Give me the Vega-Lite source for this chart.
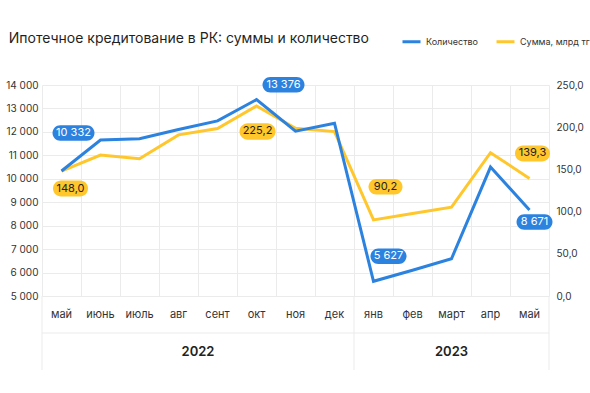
{
  "$schema": "https://vega.github.io/schema/vega-lite/v6.json",
  "padding": {"left": 5, "top": 31, "right": 5, "bottom": 5},
  "background": "white",
  "config": {
    "font": "Inter",
    "view": {"stroke": null},
    "locale": {"number": {"decimal": ",", "thousands": " ", "grouping": [3], "currency": ["", ""]}}
  },
  "title": {"text": "Ипотечное кредитование в РК: суммы и количество", "anchor": "start", "font": "Inter", "fontSize": 14, "fontWeight": 400, "color": "#1f1f1f", "offset": -15, "dx": 3},
  "datasets": {
    "m": [
      {"key": "май 2022", "month": "май", "year": "2022", "count": 10332, "sum": 148.0},
      {"key": "июнь 2022", "month": "июнь", "year": "2022", "count": 11650, "sum": 167.0},
      {"key": "июль 2022", "month": "июль", "year": "2022", "count": 11710, "sum": 162.7},
      {"key": "авг 2022", "month": "авг", "year": "2022", "count": 12100, "sum": 190.9},
      {"key": "сент 2022", "month": "сент", "year": "2022", "count": 12470, "sum": 198.4},
      {"key": "окт 2022", "month": "окт", "year": "2022", "count": 13376, "sum": 225.2},
      {"key": "ноя 2022", "month": "ноя", "year": "2022", "count": 12030, "sum": 198.8},
      {"key": "дек 2022", "month": "дек", "year": "2022", "count": 12370, "sum": 194.8},
      {"key": "янв 2023", "month": "янв", "year": "2023", "count": 5627, "sum": 90.2},
      {"key": "фев 2023", "month": "фев", "year": "2023", "count": 6100, "sum": 97.7},
      {"key": "март 2023", "month": "март", "year": "2023", "count": 6590, "sum": 105.2},
      {"key": "апр 2023", "month": "апр", "year": "2023", "count": 10500, "sum": 169.8},
      {"key": "май 2023", "month": "май", "year": "2023", "count": 8671, "sum": 139.3}
    ]
  },
  "spacing": 0,
  "bounds": "flush",
  "vconcat": [
    {
      "width": 507,
      "height": 211,
      "data": {"name": "m"},
      "layer": [
        {
          "encoding": {
            "x": {"field": "key", "type": "ordinal", "scale": {"type": "band", "paddingInner": 0, "paddingOuter": 0, "domain": ["май 2022","июнь 2022","июль 2022","авг 2022","сент 2022","окт 2022","ноя 2022","дек 2022","янв 2023","фев 2023","март 2023","апр 2023","май 2023"]}, "axis": {"labels": false, "ticks": false, "domain": false, "grid": true, "tickBand": "extent", "gridColor": "#EBEBEB", "gridWidth": 1, "title": null}},
            "y": {"field": "sum", "type": "quantitative", "scale": {"domain": [0, 250], "zero": false, "nice": false}, "axis": {"orient": "right", "values": [0, 50, 100, 150, 200, 250], "format": ".1f", "grid": false, "domain": false, "ticks": false, "labelPadding": 7, "labelFontSize": 10, "labelColor": "#333333", "title": null}}
          },
          "layer": [
            {"mark": {"type": "line", "strokeWidth": 3}, "encoding": {"color": {"datum": "Сумма, млрд тг", "type": "nominal", "scale": {"domain": ["Количество", "Сумма, млрд тг"], "range": ["#2C82DF", "#FFC72C"]}, "legend": {"orient": "none", "legendX": 359, "legendY": -54, "direction": "horizontal", "title": null, "symbolType": "stroke", "symbolStrokeWidth": 3, "symbolSize": 324, "labelFontSize": 9, "labelColor": "#333333", "labelOffset": 4, "columnPadding": 12}}}},
            {"transform": [{"filter": "datum.key === 'май 2022'"}], "layer": [
              {"mark": {"type": "point", "shape": "M-0.544,-0.456L0.544,-0.456C0.796,-0.456,1,-0.252,1,0C1,0.252,0.796,0.456,0.544,0.456L-0.544,0.456C-0.796,0.456,-1,0.252,-1,0C-1,-0.252,-0.796,-0.456,-0.544,-0.456Z", "size": 1225, "filled": true, "opacity": 1, "color": "#FFC72C", "strokeWidth": 0, "xOffset": 9, "yOffset": 17.5}},
              {"mark": {"type": "text", "fontSize": 11, "color": "#222222", "xOffset": 9, "yOffset": 17.5}, "encoding": {"text": {"field": "sum", "type": "quantitative", "format": ".1f"}}}
            ]},
            {"transform": [{"filter": "datum.key === 'окт 2022'"}], "layer": [
              {"mark": {"type": "point", "shape": "M-0.544,-0.456L0.544,-0.456C0.796,-0.456,1,-0.252,1,0C1,0.252,0.796,0.456,0.544,0.456L-0.544,0.456C-0.796,0.456,-1,0.252,-1,0C-1,-0.252,-0.796,-0.456,-0.544,-0.456Z", "size": 1296, "filled": true, "opacity": 1, "color": "#FFC72C", "strokeWidth": 0, "xOffset": 1, "yOffset": 25.5}},
              {"mark": {"type": "text", "fontSize": 11, "color": "#222222", "xOffset": 1, "yOffset": 25.5}, "encoding": {"text": {"field": "sum", "type": "quantitative", "format": ".1f"}}}
            ]},
            {"transform": [{"filter": "datum.key === 'янв 2023'"}], "layer": [
              {"mark": {"type": "point", "shape": "M-0.544,-0.456L0.544,-0.456C0.796,-0.456,1,-0.252,1,0C1,0.252,0.796,0.456,0.544,0.456L-0.544,0.456C-0.796,0.456,-1,0.252,-1,0C-1,-0.252,-0.796,-0.456,-0.544,-0.456Z", "size": 1156, "filled": true, "opacity": 1, "color": "#FFC72C", "strokeWidth": 0, "xOffset": 12, "yOffset": -33}},
              {"mark": {"type": "text", "fontSize": 11, "color": "#222222", "xOffset": 12, "yOffset": -33}, "encoding": {"text": {"field": "sum", "type": "quantitative", "format": ".1f"}}}
            ]},
            {"transform": [{"filter": "datum.key === 'май 2023'"}], "layer": [
              {"mark": {"type": "point", "shape": "M-0.544,-0.456L0.544,-0.456C0.796,-0.456,1,-0.252,1,0C1,0.252,0.796,0.456,0.544,0.456L-0.544,0.456C-0.796,0.456,-1,0.252,-1,0C-1,-0.252,-0.796,-0.456,-0.544,-0.456Z", "size": 1225, "filled": true, "opacity": 1, "color": "#FFC72C", "strokeWidth": 0, "xOffset": 3, "yOffset": -25}},
              {"mark": {"type": "text", "fontSize": 11, "color": "#222222", "xOffset": 3, "yOffset": -25}, "encoding": {"text": {"field": "sum", "type": "quantitative", "format": ".1f"}}}
            ]}
          ]
        },
        {
          "encoding": {
            "x": {"field": "key", "type": "ordinal", "scale": {"type": "band", "paddingInner": 0, "paddingOuter": 0, "domain": ["май 2022","июнь 2022","июль 2022","авг 2022","сент 2022","окт 2022","ноя 2022","дек 2022","янв 2023","фев 2023","март 2023","апр 2023","май 2023"]}, "axis": {"labels": false, "ticks": false, "domain": false, "grid": true, "tickBand": "extent", "gridColor": "#EBEBEB", "gridWidth": 1, "title": null}},
            "y": {"field": "count", "type": "quantitative", "scale": {"domain": [5000, 14000], "zero": false, "nice": false}, "axis": {"orient": "left", "values": [5000, 6000, 7000, 8000, 9000, 10000, 11000, 12000, 13000, 14000], "format": ",.0f", "grid": true, "gridColor": "#EBEBEB", "domain": false, "ticks": false, "labelPadding": 4, "labelFontSize": 10, "labelColor": "#333333", "title": null}}
          },
          "layer": [
            {"mark": {"type": "line", "strokeWidth": 3}, "encoding": {"color": {"datum": "Количество", "type": "nominal", "scale": {"domain": ["Количество", "Сумма, млрд тг"], "range": ["#2C82DF", "#FFC72C"]}}}},
            {"transform": [{"filter": "datum.key === 'май 2022'"}], "layer": [
              {"mark": {"type": "point", "shape": "M-0.631,-0.369L0.631,-0.369C0.835,-0.369,1,-0.204,1,0C1,0.204,0.835,0.369,0.631,0.369L-0.631,0.369C-0.835,0.369,-1,0.204,-1,0C-1,-0.204,-0.835,-0.369,-0.631,-0.369Z", "size": 1764, "filled": true, "opacity": 1, "color": "#2C82DF", "strokeWidth": 0, "xOffset": 12, "yOffset": -38}},
              {"mark": {"type": "text", "fontSize": 11, "color": "#ffffff", "xOffset": 12, "yOffset": -38}, "encoding": {"text": {"field": "count", "type": "quantitative", "format": ",.0f"}}}
            ]},
            {"transform": [{"filter": "datum.key === 'окт 2022'"}], "layer": [
              {"mark": {"type": "point", "shape": "M-0.631,-0.369L0.631,-0.369C0.835,-0.369,1,-0.204,1,0C1,0.204,0.835,0.369,0.631,0.369L-0.631,0.369C-0.835,0.369,-1,0.204,-1,0C-1,-0.204,-0.835,-0.369,-0.631,-0.369Z", "size": 1764, "filled": true, "opacity": 1, "color": "#2C82DF", "strokeWidth": 0, "xOffset": 27, "yOffset": -15}},
              {"mark": {"type": "text", "fontSize": 11, "color": "#ffffff", "xOffset": 27, "yOffset": -15}, "encoding": {"text": {"field": "count", "type": "quantitative", "format": ",.0f"}}}
            ]},
            {"transform": [{"filter": "datum.key === 'янв 2023'"}], "layer": [
              {"mark": {"type": "point", "shape": "M-0.569,-0.431L0.569,-0.431C0.807,-0.431,1,-0.238,1,0C1,0.238,0.807,0.431,0.569,0.431L-0.569,0.431C-0.807,0.431,-1,0.238,-1,0C-1,-0.238,-0.807,-0.431,-0.569,-0.431Z", "size": 1296, "filled": true, "opacity": 1, "color": "#2C82DF", "strokeWidth": 0, "xOffset": 15, "yOffset": -25}},
              {"mark": {"type": "text", "fontSize": 11, "color": "#ffffff", "xOffset": 15, "yOffset": -25}, "encoding": {"text": {"field": "count", "type": "quantitative", "format": ",.0f"}}}
            ]},
            {"transform": [{"filter": "datum.key === 'май 2023'"}], "layer": [
              {"mark": {"type": "point", "shape": "M-0.569,-0.431L0.569,-0.431C0.807,-0.431,1,-0.238,1,0C1,0.238,0.807,0.431,0.569,0.431L-0.569,0.431C-0.807,0.431,-1,0.238,-1,0C-1,-0.238,-0.807,-0.431,-0.569,-0.431Z", "size": 1296, "filled": true, "opacity": 1, "color": "#2C82DF", "strokeWidth": 0, "xOffset": 5, "yOffset": 12}},
              {"mark": {"type": "text", "fontSize": 11, "color": "#ffffff", "xOffset": 5, "yOffset": 12}, "encoding": {"text": {"field": "count", "type": "quantitative", "format": ",.0f"}}}
            ]}
          ]
        }
      ],
      "resolve": {"scale": {"y": "independent"}}
    },
    {
      "width": 507,
      "height": 74,
      "data": {"name": "m"},
      "layer": [
        {"transform": [{"filter": "datum.key === 'май 2022'"}], "mark": {"type": "rule", "color": "#EBEBEB"}, "encoding": {"y": {"datum": "y", "type": "nominal", "bandPosition": 0, "scale": {"type": "band", "domain": ["m", "y"], "paddingInner": 0, "paddingOuter": 0}, "axis": null}}},
        {"transform": [{"filter": "datum.key === 'май 2022' || datum.key === 'янв 2023'"}], "mark": {"type": "rule", "color": "#EBEBEB"}, "encoding": {"x": {"field": "key", "type": "ordinal", "bandPosition": 0, "scale": {"type": "band", "paddingInner": 0, "paddingOuter": 0, "domain": ["май 2022","июнь 2022","июль 2022","авг 2022","сент 2022","окт 2022","ноя 2022","дек 2022","янв 2023","фев 2023","март 2023","апр 2023","май 2023"]}, "axis": null}}},
        {"transform": [{"filter": "datum.key === 'май 2023'"}], "mark": {"type": "rule", "color": "#EBEBEB"}, "encoding": {"x": {"field": "key", "type": "ordinal", "bandPosition": 1, "axis": null}}},
        {"mark": {"type": "text", "fontSize": 11, "color": "#333333"}, "encoding": {"x": {"field": "key", "type": "ordinal", "axis": null}, "y": {"datum": "m", "type": "nominal", "axis": null}, "text": {"field": "month"}}},
        {"transform": [{"filter": "datum.key === 'сент 2022'"}], "mark": {"type": "text", "fontSize": 13, "fontWeight": 600, "color": "#222222"}, "encoding": {"x": {"field": "key", "type": "ordinal", "bandPosition": 0, "axis": null}, "y": {"datum": "y", "type": "nominal", "axis": null}, "text": {"field": "year"}}},
        {"transform": [{"filter": "datum.key === 'март 2023'"}], "mark": {"type": "text", "fontSize": 13, "fontWeight": 600, "color": "#222222"}, "encoding": {"x": {"field": "key", "type": "ordinal", "axis": null}, "y": {"datum": "y", "type": "nominal", "axis": null}, "text": {"field": "year"}}}
      ]
    }
  ]
}
